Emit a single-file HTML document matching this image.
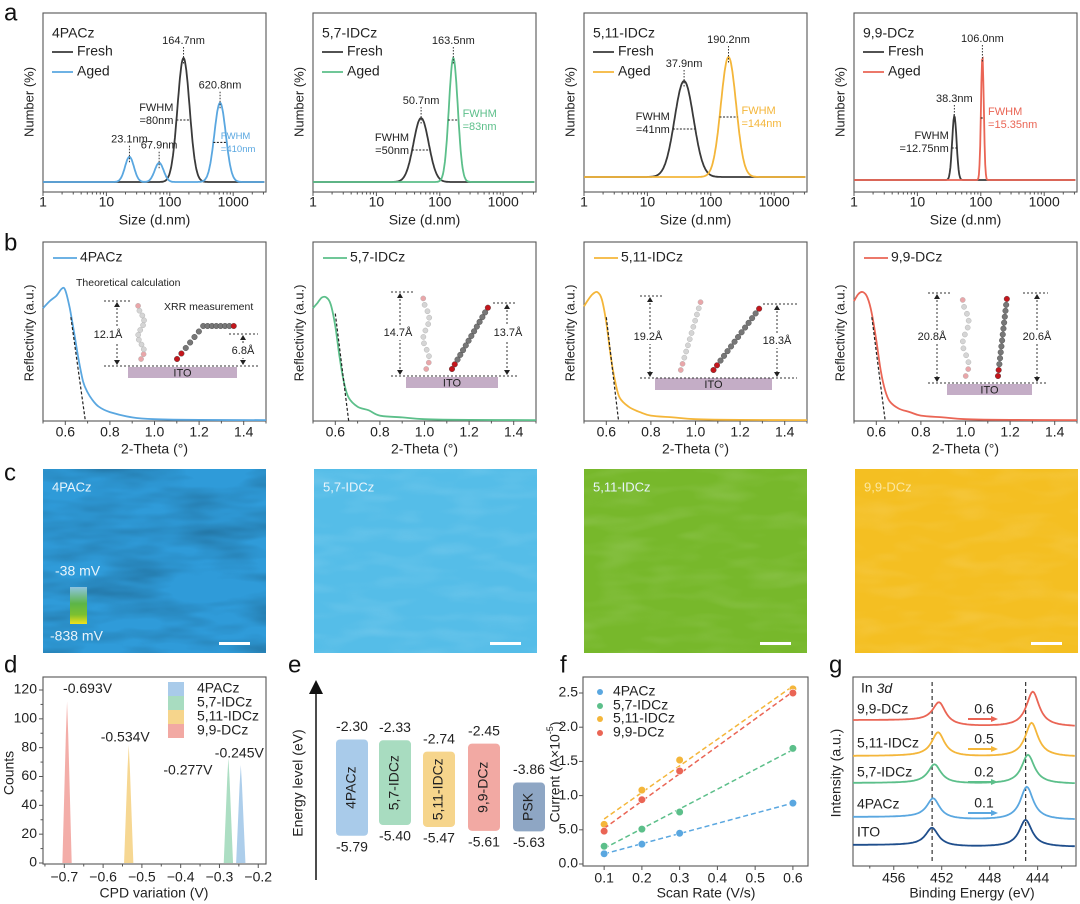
<!DOCTYPE html>
<html><head><meta charset="utf-8">
<style>
html,body{margin:0;padding:0;background:#fff;}
svg{display:block;font-family:"Liberation Sans",Arial,sans-serif;}
</style></head>
<body>
<svg id="fig" width="1080" height="904" viewBox="0 0 1080 904" xmlns="http://www.w3.org/2000/svg">
<defs>
<filter id="tex" x="0" y="0" width="100%" height="100%">
<feTurbulence type="fractalNoise" baseFrequency="0.012 0.05" numOctaves="3" seed="4"/>
<feColorMatrix type="matrix" values="0 0 0 0 0  0 0 0 0 0  0 0 0 0 0  0.9 0 0 0 -0.35"/>
</filter>
<filter id="tex2" x="0" y="0" width="100%" height="100%">
<feTurbulence type="fractalNoise" baseFrequency="0.02 0.07" numOctaves="2" seed="9"/>
<feColorMatrix type="matrix" values="0 0 0 0 1  0 0 0 0 1  0 0 0 0 1  0.7 0 0 0 -0.3"/>
</filter>
<linearGradient id="cbar" x1="0" y1="0" x2="0" y2="1">
<stop offset="0" stop-color="#8fc4e0"/><stop offset="0.45" stop-color="#5cb548"/><stop offset="0.75" stop-color="#7cc030"/><stop offset="1" stop-color="#f2e21c"/>
</linearGradient>
</defs>
</svg>
<script>
// ---------- DATA ----------
// Panel a (DLS)
const aNames = ['4PACz','5,7-IDCz','5,11-IDCz','9,9-DCz'];
const aColors = ['#5aa7e0','#5cbf8a','#f4b63a','#ea6555'];
const freshCenters = [[164.7],[50.7],[37.9],[38.3]];
const freshHeights = [[31],[16],[24],[16]];
const freshSigmas = [[0.095],[0.12],[0.15],[0.035]];
const agedCenters = [[23.1,67.9,620.8],[163.5],[190.2],[106.0]];
const agedHeights = [[6.3,4.8,19.8],[31],[30],[31]];
const agedSigmas = [[0.07,0.07,0.09],[0.07],[0.12],[0.022]];
const agedLabels = [['23.1nm','67.9nm','620.8nm'],['163.5nm'],['190.2nm'],['106.0nm']];
const freshLabels = [['164.7nm'],['50.7nm'],['37.9nm'],['38.3nm']];
const freshFwhm = ['=80nm','=50nm','=41nm','=12.75nm'];
const agedFwhm = ['=410nm','=83nm','=144nm','=15.35nm'];
const agedFwhmIndex = [2,0,0,0];
const sizeTicks = [1,10,100,1000];
const sizeTickLabels = ['1','10','100','1000'];
// Panel b (XRR)
const thetaP1 = [0.5,0.53,0.56,0.585,0.6,0.62,0.64,0.66,0.68,0.70,0.72,0.75,0.8,0.9,1.0,1.2,1.5];
const reflP1 = [0.63,0.67,0.70,0.74,0.73,0.63,0.49,0.34,0.22,0.16,0.12,0.08,0.05,0.02,0.01,0.006,0.005];
const thetaP = [0.5,0.52,0.54,0.56,0.58,0.6,0.62,0.64,0.66,0.7,0.75,0.8,0.9,1.0,1.2,1.5];
const reflP2 = [0.63,0.66,0.69,0.69,0.65,0.53,0.35,0.21,0.13,0.08,0.06,0.03,0.02,0.01,0.006,0.005];
const reflP3 = [0.64,0.68,0.71,0.72,0.68,0.55,0.36,0.22,0.13,0.08,0.05,0.03,0.02,0.01,0.006,0.005];
const reflP4 = [0.67,0.71,0.72,0.69,0.60,0.45,0.28,0.17,0.11,0.07,0.05,0.03,0.02,0.01,0.006,0.005];
const tangentStart = [[0.625,0.58],[0.6,0.6],[0.6,0.58],[0.58,0.58]];
const tangentEnd = [[0.69,0],[0.66,0],[0.655,0],[0.64,0]];
const thetaTicks = [0.6,0.8,1.0,1.2,1.4];
const thetaTickLabels = ['0.6','0.8','1.0','1.2','1.4'];
const leftThick = ['12.1Å','14.7Å','19.2Å','20.8Å'];
const rightThick = ['6.8Å','13.7Å','18.3Å','20.6Å'];
// Panel d (CPD)
const cpdNames = ['4PACz','5,7-IDCz','5,11-IDCz','9,9-DCz'];
const cpdCenters = [-0.245,-0.277,-0.534,-0.693];
const cpdCounts = [68,73,82,112];
const cpdLabels = ['-0.245V','-0.277V','-0.534V','-0.693V'];
const cpdXTicks = [-0.7,-0.6,-0.5,-0.4,-0.3,-0.2];
const cpdXTickLabels = ['\u22120.7','\u22120.6','\u22120.5','\u22120.4','\u22120.3','\u22120.2'];
const cpdYTicks = [0,20,40,60,80,100,120];
// Panel e (energy levels)
const eNames = ['4PACz','5,7-IDCz','5,11-IDCz','9,9-DCz','PSK'];
const eLumo = [-2.30,-2.33,-2.74,-2.45,-3.86];
const eHomo = [-5.79,-5.40,-5.47,-5.61,-5.63];
// Panel f (CV)
const scanRates = [0.1,0.2,0.3,0.6];
const cur4PACz = [0.15,0.29,0.45,0.89];
const cur57 = [0.26,0.51,0.76,1.69];
const cur511 = [0.58,1.08,1.52,2.56];
const cur99 = [0.48,0.94,1.36,2.50];
const fXTicks = [0.1,0.2,0.3,0.4,0.5,0.6];
const fYTicks = [0,0.5,1.0,1.5,2.0,2.5];
const fYTickLabels = ['0.0','5.0','1.0','1.5','2.0','2.5'];
// Panel g (XPS)
const gNames = ['ITO','4PACz','5,7-IDCz','5,11-IDCz','9,9-DCz'];
const gShifts = [0,0.1,0.2,0.5,0.6];
const gBaseline = [18,45,81,108,138];
const gLeftStep = [2,3,1,1,7];
const gPeak1 = [18,20,19,24,21];
const gPeak2 = [27,33,29,34,35];
const gRefPeaks = [452.8,445.0];
const gXTicks = [456,452,448,444];

// ---------- HELPERS ----------
const NS='http://www.w3.org/2000/svg';
const svg=document.getElementById('fig');
function mk(tag,attrs,parent){const e=document.createElementNS(NS,tag);for(const k in attrs)e.setAttribute(k,attrs[k]);(parent||svg).appendChild(e);return e;}
function nm(e,name){


return e;}
function txt(p,x,y,s,o){o=o||{};const t=mk('text',{x:x,y:y,'font-size':o.fs||13,fill:o.fill||'#222','text-anchor':o.anchor||'start','dominant-baseline':'middle'},p);if(o.rot)t.setAttribute('transform','rotate('+o.rot+' '+x+' '+y+')');if(o.style)t.setAttribute('font-style',o.style);t.textContent=s;return t;}
function line(p,x1,y1,x2,y2,st,w,dash){const l=mk('line',{x1:x1,y1:y1,x2:x2,y2:y2,stroke:st||'#444','stroke-width':w||1},p);if(dash)l.setAttribute('stroke-dasharray',dash);return l;}
function smooth(pts){let d='M'+pts[0][0].toFixed(1)+','+pts[0][1].toFixed(1);for(let i=0;i<pts.length-1;i++){const p0=pts[Math.max(0,i-1)],p1=pts[i],p2=pts[i+1],p3=pts[Math.min(pts.length-1,i+2)];const c1=[p1[0]+(p2[0]-p0[0])/6,p1[1]+(p2[1]-p0[1])/6],c2=[p2[0]-(p3[0]-p1[0])/6,p2[1]-(p3[1]-p1[1])/6];d+='C'+c1[0].toFixed(1)+','+c1[1].toFixed(1)+' '+c2[0].toFixed(1)+','+c2[1].toFixed(1)+' '+p2[0].toFixed(1)+','+p2[1].toFixed(1);}return d;}
function frame(p,x,y,w,h){return nm(mk('rect',{x:x,y:y,width:w,height:h,fill:'none',stroke:'#555','stroke-width':1.1},p),'plot-frame');}
function letter(s,x,y){nm(txt(svg,x,y,s,{fs:24,fill:'#111'}),'panel-label-'+s);}

// ---------- PANEL A ----------
letter('a',4,14);
const colL=[43,313,584,854], colW=223;
const aTop=13,aBot=192, dec=63.4;
const aZero=[182,182,177,180], aPx=4;
aNames.forEach((name,pi)=>{
 const L=colL[pi];
 const g=nm(mk('g',{},svg),'dls-panel-'+pi);
 const xs=v=>L+Math.log10(v)*dec;
 const ys=v=>aZero[pi]-v*aPx;
 frame(g,L,aTop,colW,aBot-aTop);
 for(let d=0;d<4;d++)for(let m=1;m<10;m++){const v=m*Math.pow(10,d);const x=xs(v);if(x>L+colW)break;nm(line(g,x,aBot,x,aBot+(m===1?4:2.5),'#555',1),'x-tick');}
 sizeTicks.forEach((v,i)=>nm(txt(g,xs(v),203,sizeTickLabels[i],{fs:14,anchor:'middle'}),'x-tick-label'));
 nm(txt(g,L+colW/2,221,'Size (d.nm)',{fs:14,anchor:'middle'}),'x-axis-title');
 nm(txt(g,L-13,102,'Number (%)',{fs:13,anchor:'middle',rot:-90}),'y-axis-title');
 function curve(cs,hs,ss,col,nmn){const pts=[];for(let lv=0;lv<=Math.log10(3000)+0.02;lv+=0.01){let v=0;cs.forEach((c,k)=>{const z=(lv-Math.log10(c))/ss[k];v+=hs[k]*Math.exp(-0.5*z*z);});const x=L+lv*dec;if(x>L+colW)break;pts.push([x,ys(v)]);}
  const p=mk('path',{d:'M'+pts.map(q=>q[0].toFixed(1)+','+q[1].toFixed(1)).join('L'),fill:'none',stroke:col,'stroke-width':1.8},g);nm(p,nmn);}
 curve(freshCenters[pi],freshHeights[pi],freshSigmas[pi],'#3a3a3a','fresh-curve');
 curve(agedCenters[pi],agedHeights[pi],agedSigmas[pi],aColors[pi],'aged-curve');
 function peakLbl(c,h,s){const x=xs(c),y=ys(h);nm(line(g,x,y-11,x,y+7,'#333',1,'1.5,1.5'),'peak-marker');nm(txt(g,x,y-17,s,{fs:11,anchor:'middle'}),'peak-label');}
 freshCenters[pi].forEach((c,k)=>peakLbl(c,freshHeights[pi][k],freshLabels[pi][k]));
 agedCenters[pi].forEach((c,k)=>peakLbl(c,agedHeights[pi][k],agedLabels[pi][k]));
 {const c=freshCenters[pi][0],h=freshHeights[pi][0]/2,hw=1.18*freshSigmas[pi][0]*dec;const x=xs(c),y=ys(h);
  nm(line(g,x-hw,y,x+hw,y,'#222',1.1,'2,1.5'),'fwhm-bar');
  nm(txt(g,x-hw-3,y-12,'FWHM',{fs:11,anchor:'end'}),'fwhm-label');nm(txt(g,x-hw-3,y+1,freshFwhm[pi],{fs:11,anchor:'end'}),'fwhm-value');}
 {const k=agedFwhmIndex[pi];const c=agedCenters[pi][k],h=agedHeights[pi][k]/2,hw=1.18*agedSigmas[pi][k]*dec;const x=xs(c),y=ys(h);
  nm(line(g,x-hw,y,x+hw,y,'#222',1.1,'2,1.5'),'fwhm-bar');
  const fs=pi===0?9.5:11;const tx=pi===0?x+hw-6:x+hw+4;
  nm(txt(g,tx,y-6,'FWHM',{fs:fs,fill:aColors[pi]}),'fwhm-label');nm(txt(g,tx,y+7,agedFwhm[pi],{fs:fs,fill:aColors[pi]}),'fwhm-value');}
 nm(txt(g,L+9,34,name,{fs:14}),'legend-title');
 nm(line(g,L+9,52,L+30,52,'#3a3a3a',1.8),'legend-line-fresh');nm(txt(g,L+34,52,'Fresh',{fs:14}),'legend-label-fresh');
 nm(line(g,L+9,72,L+30,72,aColors[pi],1.8),'legend-line-aged');nm(txt(g,L+34,72,'Aged',{fs:14}),'legend-label-aged');
});

// ---------- PANEL B ----------
letter('b',4,244);
const bTop=242,bBot=421;
const reflSeries=[reflP1,reflP2,reflP3,reflP4];
const thetaSeries=[thetaP1,thetaP,thetaP,thetaP];
const insets=[
 {ito:[128,367,237,378],lt:301,lb:366,lax:117,rt:334,rb:366,rax:243,lbl:[108,335],rlbl:[243,351],lx0:104,rx1:258},
 {ito:[406,377,498,388],lt:292,lb:376,lax:400,rt:303,rb:376,rax:507,lbl:[398,333],rlbl:[508,333],lx0:391,rx1:517},
 {ito:[655,378,772,390],lt:296,lb:378,lax:650,rt:304,rb:378,rax:777,lbl:[648,337],rlbl:[777,341],lx0:640,rx1:797},
 {ito:[947,384,1032,395],lt:293,lb:383,lax:937,rt:293,rb:383,rax:1037,lbl:[932,337],rlbl:[1037,337],lx0:928,rx1:1048}
];
aNames.forEach((name,pi)=>{
 const L=colL[pi];
 const g=nm(mk('g',{},svg),'xrr-panel-'+pi);
 const xs=v=>L+(v-0.5)*colW;
 const ys=v=>bBot-v*(bBot-bTop);
 frame(g,L,bTop,colW,bBot-bTop);
 for(let v=0.5;v<=1.501;v+=0.1){const x=xs(v);const major=Math.abs((v*10)%2)<0.01||Math.abs((v*10)%2-2)<0.01;nm(line(g,x,bBot,x,bBot+(major?4:2.5),'#555',1),'x-tick');}
 thetaTicks.forEach((v,i)=>nm(txt(g,xs(v),433,thetaTickLabels[i],{fs:14,anchor:'middle'}),'x-tick-label'));
 nm(txt(g,L+colW/2,450,'2-Theta (°)',{fs:14,anchor:'middle'}),'x-axis-title');
 nm(txt(g,L-13,333,'Reflectivity (a.u.)',{fs:13,anchor:'middle',rot:-90}),'y-axis-title');
 const pts=thetaSeries[pi].map((t,i)=>[xs(t),ys(reflSeries[pi][i])]);
 nm(mk('path',{d:smooth(pts),fill:'none',stroke:aColors[pi],'stroke-width':1.8},g),'reflectivity-curve');
 nm(line(g,xs(tangentStart[pi][0]),ys(tangentStart[pi][1]),xs(tangentEnd[pi][0]),ys(tangentEnd[pi][1]),'#222',1.2,'3,2'),'tangent-line');
 nm(line(g,L+10,258,L+34,258,aColors[pi],1.8),'legend-line');nm(txt(g,L+37,258,name,{fs:14}),'legend-label');
 const s=insets[pi];
 const it=nm(mk('g',{},g),'molecule-inset');
 nm(mk('rect',{x:s.ito[0],y:s.ito[1],width:s.ito[2]-s.ito[0],height:s.ito[3]-s.ito[1],fill:'#c4adc6'},it),'ito-substrate');
 nm(txt(it,(s.ito[0]+s.ito[2])/2,(s.ito[1]+s.ito[3])/2+1,'ITO',{fs:11,anchor:'middle'}),'ito-label');
 nm(line(it,s.lx0,s.lt,s.lax+14,s.lt,'#333',1,'2,2'),'dim-line');
 nm(line(it,s.lx0,s.lb,s.rx1,s.lb,'#333',1,'2,2'),'dim-line');
 nm(line(it,s.rax-14,s.rt,s.rx1,s.rt,'#333',1,'2,2'),'dim-line');
 nm(line(it,s.lax,s.lt+3,s.lax,s.lb-3,'#333',1,'2,2'),'dim-arrow');
 nm(line(it,s.rax,s.rt+3,s.rax,s.rb-3,'#333',1,'2,2'),'dim-arrow');
 [[s.lax,s.lt,1],[s.lax,s.lb,-1],[s.rax,s.rt,1],[s.rax,s.rb,-1]].forEach(a=>nm(mk('path',{d:`M${a[0]-3},${a[1]+a[2]*6}L${a[0]},${a[1]+a[2]}L${a[0]+3},${a[1]+a[2]*6}Z`,fill:'#222'},it),'arrow-head'));
 nm(mk('rect',{x:s.lbl[0]-16,y:s.lbl[1]-7,width:32,height:14,fill:'#fff'},it),'label-bg');
 nm(txt(it,s.lbl[0],s.lbl[1],leftThick[pi],{fs:11,anchor:'middle'}),'thickness-left');
 nm(mk('rect',{x:s.rlbl[0]-16,y:s.rlbl[1]-7,width:32,height:14,fill:'#fff'},it),'label-bg');
 nm(txt(it,s.rlbl[0],s.rlbl[1],rightThick[pi],{fs:11,anchor:'middle'}),'thickness-right');
 const mx0=s.ito[0],mx1=s.ito[2],bt=s.ito[1]-8;
 const span=mx1-mx0;
 const lefts=[],rights=[];
 for(let k=0;k<12;k++){lefts.push([mx0+span*(pi===0?0.12:0.22)+ (pi===2?k*1.8:Math.sin(k)*3),bt-k*(bt-s.lt)/12]);}
 if(pi===0){for(let k=0;k<14;k++)rights.push([mx0+span*0.45+k*span*0.04,bt-Math.min(k,6)*5.5]);}
 else{for(let k=0;k<14;k++)rights.push([mx0+span*(pi===3?0.6:0.5)+k*span*(pi===3?0.008:0.03),bt-k*(bt-s.rt)/14]);}
 lefts.forEach((q,k)=>nm(mk('circle',{cx:q[0],cy:q[1],r:2.6,fill:k<2||k>10?'#e9a6a9':'#d5d5d5',stroke:'#aaa','stroke-width':0.4},it),'atom'));
 rights.forEach((q,k)=>nm(mk('circle',{cx:q[0],cy:q[1],r:2.8,fill:k<2?'#c4161c':(k===13?'#c4161c':'#777'),stroke:'#444','stroke-width':0.4},it),'atom'));
});
nm(txt(svg,76,283,'Theoretical calculation',{fs:10.5}),'annotation-theoretical');
nm(txt(svg,164,307,'XRR measurement',{fs:10.5}),'annotation-xrr');

// ---------- PANEL C ----------
letter('c',4,474);
const cColors=['#2f9bd9','#55bde8','#77b82b','#f4bf22'];
const cLefts=[43,314,584,855];
aNames.forEach((name,pi)=>{
 const L=cLefts[pi];
 const g=nm(mk('g',{},svg),'kpfm-image-'+pi);
 nm(mk('rect',{x:L,y:469,width:223,height:184,fill:cColors[pi]},g),'kpfm-map');
 nm(mk('rect',{x:L,y:469,width:223,height:184,filter:pi===0?'url(#tex)':'url(#tex2)',opacity:pi===0?0.5:0.35},g),'kpfm-texture');
 nm(txt(g,L+9,488,name,{fs:13,fill:pi===3?'#fbe7a0':'#e8f4fb'}),'image-label');
 nm(mk('rect',{x:L+176,y:642,width:31,height:3,fill:'#fff'},g),'scale-bar');
});
nm(txt(svg,55,572,'-38 mV',{fs:14,fill:'#eaf4fb'}),'colorbar-max');
nm(mk('rect',{x:70,y:587,width:17,height:37,fill:'url(#cbar)'},svg),'colorbar');
nm(txt(svg,50,637,'-838 mV',{fs:14,fill:'#eaf4fb'}),'colorbar-min');

// ---------- PANEL D ----------
letter('d',4,666);
(function(){
 const g=nm(mk('g',{},svg),'cpd-panel');
 const L=43,R=266,T=677,B=864;
 const xmin=-0.755,xmax=-0.18;
 const xs=v=>L+(v-xmin)/(xmax-xmin)*(R-L);
 const ys=v=>863-v*(173/120);
 frame(g,L,T,R-L,B-T);
 const dCols=['#a9cbea','#a8dcc0','#f6d58c','#f2a9a3'];
 cpdCenters.forEach((c,i)=>{
  nm(mk('path',{d:`M${xs(c-0.012)},${ys(0)}L${xs(c-0.003)},${ys(cpdCounts[i]*0.8)}L${xs(c)},${ys(cpdCounts[i])}L${xs(c+0.003)},${ys(cpdCounts[i]*0.8)}L${xs(c+0.012)},${ys(0)}Z`,fill:dCols[i],opacity:0.95},g),'cpd-peak-'+cpdNames[i]);
 });
 const lblDx=[-26,-65,-28,-4],lblDy=[-11,13,-7,-12];
 cpdCenters.forEach((c,i)=>nm(txt(g,xs(c)+lblDx[i],ys(cpdCounts[i])+lblDy[i],cpdLabels[i],{fs:14}),'cpd-peak-label'));
 cpdXTicks.forEach((v,i)=>{nm(line(g,xs(v),B,xs(v),B+4,'#555',1),'x-tick');nm(txt(g,xs(v),878,cpdXTickLabels[i],{fs:14,anchor:'middle'}),'x-tick-label');});
 for(let v=-0.75;v<-0.18;v+=0.1)nm(line(g,xs(v),B,xs(v),B+2.5,'#555',1),'x-minor-tick');
 cpdYTicks.forEach(v=>{nm(line(g,L,ys(v),L-4,ys(v),'#555',1),'y-tick');nm(txt(g,L-6,ys(v),String(v),{fs:14,anchor:'end'}),'y-tick-label');});
 for(let v=10;v<130;v+=20)nm(line(g,L,ys(v),L-2.5,ys(v),'#555',1),'y-minor-tick');
 nm(txt(g,154,894,'CPD variation (V)',{fs:14,anchor:'middle'}),'x-axis-title');
 nm(txt(g,10,773,'Counts',{fs:14,anchor:'middle',rot:-90}),'y-axis-title');
 const ly=[689,703,717,731];
 cpdNames.forEach((n,i)=>{nm(mk('rect',{x:168,y:ly[i]-7,width:16,height:14,fill:dCols[i]},g),'legend-swatch');nm(txt(g,197,ly[i],n,{fs:14}),'legend-label');});
})();

// ---------- PANEL E ----------
letter('e',288,666);
(function(){
 const g=nm(mk('g',{},svg),'energy-level-panel');
 const ys=E=>676+27.6*(-E);
 nm(line(g,316,880,316,690,'#111',1.5),'energy-axis');
 nm(mk('path',{d:'M309,694L316,680L323,694Z',fill:'#111'},g),'energy-axis-arrow');
 nm(txt(g,299,783,'Energy level (eV)',{fs:14,anchor:'middle',rot:-90}),'y-axis-title');
 const bx=[336,379,423,468,513],bw=32;
 const bCols=['#a9cbea','#a8dcc0','#f6d58c','#f2a9a3','#8ea6c4'];
 eNames.forEach((n,i)=>{
  const y1=ys(eLumo[i]),y2=ys(eHomo[i]);
  nm(mk('rect',{x:bx[i],y:y1,width:bw,height:y2-y1,rx:4,fill:bCols[i]},g),'level-box-'+n);
  nm(txt(g,bx[i]+bw/2,(y1+y2)/2,n,{fs:14,anchor:'middle',rot:-90}),'level-box-label');
  nm(txt(g,bx[i]+bw/2,y1-12,eLumo[i].toFixed(2),{fs:14,anchor:'middle'}),'lumo-value');
  nm(txt(g,bx[i]+bw/2,y2+12,eHomo[i].toFixed(2),{fs:14,anchor:'middle'}),'homo-value');
 });
})();

// ---------- PANEL F ----------
letter('f',560,666);
(function(){
 const g=nm(mk('g',{},svg),'cv-panel');
 const L=583,R=808,T=677,B=866;
 const xmin=0.044,xmax=0.64;
 const xs=v=>L+(v-xmin)/(xmax-xmin)*(R-L);
 const ys=v=>864-v*68.4;
 frame(g,L,T,R-L,B-T);
 fXTicks.forEach(v=>{nm(line(g,xs(v),B,xs(v),B+4,'#555',1),'x-tick');nm(txt(g,xs(v),879,v.toFixed(1),{fs:14,anchor:'middle'}),'x-tick-label');});
 fYTicks.forEach((v,i)=>{nm(line(g,L,ys(v),L-4,ys(v),'#555',1),'y-tick');nm(txt(g,L-5,ys(v),fYTickLabels[i],{fs:14,anchor:'end'}),'y-tick-label');});
 nm(txt(g,706,894,'Scan Rate (V/s)',{fs:14,anchor:'middle'}),'x-axis-title');
 const yt=nm(txt(g,556,772,'Current (A×10',{fs:14,anchor:'middle',rot:-90}),'y-axis-title');
 const ts=mk('tspan',{'baseline-shift':'super','font-size':9},yt);ts.textContent='-5';
 const ts2=mk('tspan',{},yt);ts2.textContent=')';
 const series=[cur4PACz,cur57,cur511,cur99];
 series.forEach((s,si)=>{
  const n=scanRates.length;let mx=0,my=0;scanRates.forEach((x,i)=>{mx+=x;my+=s[i];});mx/=n;my/=n;
  let sxy=0,sxx=0;scanRates.forEach((x,i)=>{sxy+=(x-mx)*(s[i]-my);sxx+=(x-mx)*(x-mx);});
  const b=sxy/sxx,a=my-b*mx;
  nm(line(g,xs(0.1),ys(a+b*0.1),xs(0.6),ys(a+b*0.6),aColors[si],1.5,'5,3'),'fit-line');
  scanRates.forEach((x,i)=>nm(mk('circle',{cx:xs(x),cy:ys(s[i]),r:3.8,fill:aColors[si],stroke:'#fff','stroke-width':0.6},g),'data-point'));
 });
 const ly=[692,706,719,733];
 aNames.forEach((n,i)=>{nm(mk('circle',{cx:600,cy:ly[i],r:3,fill:aColors[i]},g),'legend-marker');nm(txt(g,613,ly[i],n,{fs:14}),'legend-label');});
})();

// ---------- PANEL G ----------
letter('g',829,666);
(function(){
 const g=nm(mk('g',{},svg),'xps-panel');
 const L=853,R=1076,T=677,B=866;
 const xmin=459.4,xmax=440.8;
 const xs=v=>L+(xmin-v)/(xmin-xmax)*(R-L);
 const ys=v=>865-v;
 frame(g,L,T,R-L,B-T);
 gXTicks.forEach(v=>{nm(line(g,xs(v),B,xs(v),B+4,'#555',1),'x-tick');nm(txt(g,xs(v),879,String(v),{fs:14,anchor:'middle'}),'x-tick-label');});
 for(let v=458;v>441;v-=4)nm(line(g,xs(v),B,xs(v),B+2.5,'#555',1),'x-minor-tick');
 nm(txt(g,972,894,'Binding Energy (eV)',{fs:14,anchor:'middle'}),'x-axis-title');
 nm(txt(g,837,773,'Intensity (a.u.)',{fs:14,anchor:'middle',rot:-90}),'y-axis-title');
 gRefPeaks.forEach(p=>nm(line(g,xs(p),682,xs(p),862,'#333',1.2,'4,3'),'reference-line'));
 const gCols=['#1f4e8c','#5aa7e0','#5cbf8a','#f4b63a','#ea6555'];
 const w=0.65;
 gNames.forEach((n,i)=>{
  const pts=[];
  for(let e=xmin;e>=xmax;e-=0.1){
   const p1=gRefPeaks[0]-gShifts[i],p2=gRefPeaks[1]-gShifts[i];
   const l1=1/(1+Math.pow((e-p1)/w,2)),l2=1/(1+Math.pow((e-p2)/w,2));
   const step=gLeftStep[i]*(0.5+Math.atan((e-p1)/w)/Math.PI);
   pts.push([xs(e),ys(gBaseline[i]+step+gPeak1[i]*l1+gPeak2[i]*l2)]);
  }
  nm(mk('path',{d:'M'+pts.map(q=>q[0].toFixed(1)+','+q[1].toFixed(1)).join('L'),fill:'none',stroke:gCols[i],'stroke-width':1.8},g),'xps-curve-'+n);
 });
 const lblY=[833,805,773,744,710];
 gNames.forEach((n,i)=>nm(txt(g,857,lblY[i],n,{fs:14}),'curve-label'));
 const tt=nm(txt(g,861,689,'In ',{fs:14}),'core-level-label');const it=mk('tspan',{'font-style':'italic'},tt);it.textContent='3d';
 const shY=[0,804,773,740,710];
 for(let i=1;i<5;i++){
  nm(txt(g,984,shY[i],gShifts[i].toFixed(1),{fs:14,anchor:'middle'}),'shift-value');
  nm(line(g,968,shY[i]+9,992,shY[i]+9,gCols[i],2),'shift-arrow');
  nm(mk('path',{d:`M991,${shY[i]+6}L998,${shY[i]+9}L991,${shY[i]+12}Z`,fill:gCols[i]},g),'shift-arrowhead');
 }
})();
</script>
</body></html>
